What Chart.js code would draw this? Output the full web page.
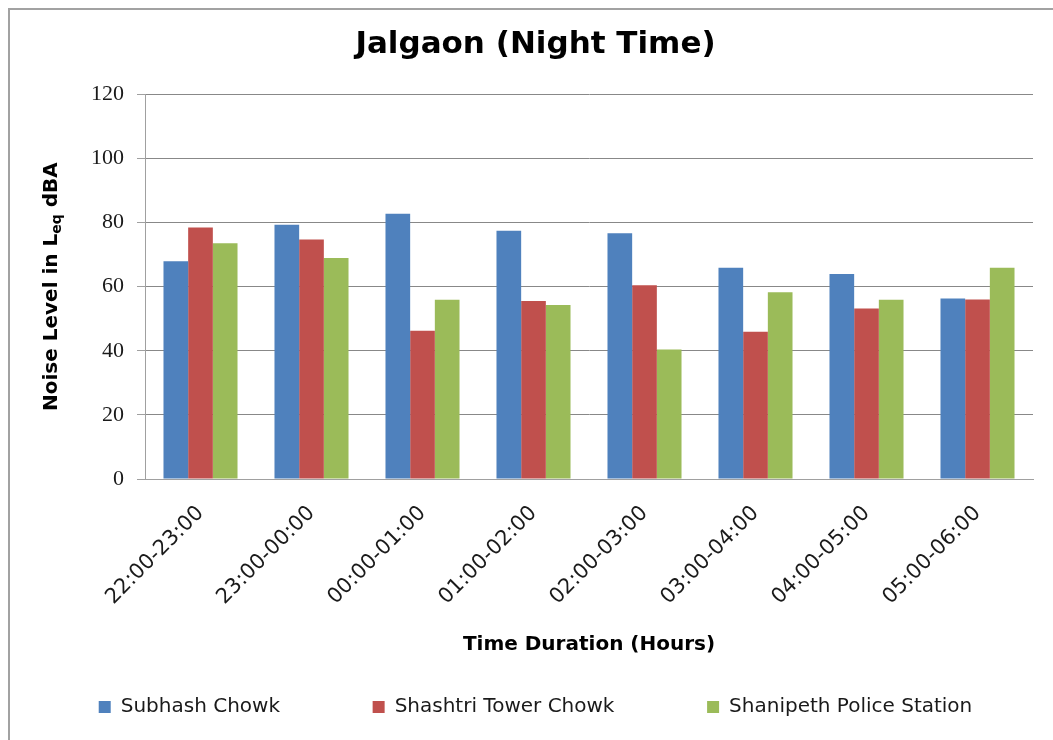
<!DOCTYPE html>
<html>
<head>
<meta charset="utf-8">
<script src="https://cdn.jsdelivr.net/npm/chart.js@4/dist/chart.umd.min.js"></script>
<style>
  html, body { margin: 0; padding: 0; background: #fff; }
  #wrap { position: relative; width: 1053px; height: 740px; overflow: hidden; }
  #frame { position: absolute; left: 8px; top: 8px; width: 1200px; height: 900px;
           border-left: 2px solid #a2a2a2; border-top: 2px solid #a2a2a2; pointer-events: none; }
</style>
</head>
<body>
<div id="wrap">
  <canvas id="noiseChart"></canvas>
  <div id="frame"></div>
</div>
<script>
const timeSlots = ['22:00-23:00', '23:00-00:00', '00:00-01:00', '01:00-02:00',
                   '02:00-03:00', '03:00-04:00', '04:00-05:00', '05:00-06:00'];
const subhashChowk = [67.9, 79.3, 82.7, 77.4, 76.6, 65.9, 63.9, 56.3];
const shashtriTowerChowk = [78.4, 74.7, 46.2, 55.5, 60.4, 45.9, 53.2, 56.0];
const shanipethPoliceStation = [73.5, 68.9, 55.9, 54.3, 40.4, 58.2, 55.9, 65.9];
const yTicks = [0, 20, 40, 60, 80, 100, 120];

const seriesNames = ['Subhash Chowk', 'Shashtri Tower Chowk', 'Shanipeth Police Station'];

// y axis title has a subscript, so it is drawn by hand
const yTitlePlugin = {
    id: 'yTitle',
    afterDraw(chart) {
        const ctx = chart.ctx;
        const area = chart.chartArea;
        const big = 'bold 20px "DejaVu Sans"';
        const small = 'bold 14px "DejaVu Sans"';
        const parts = [['Noise Level in L', big, 0], ['eq', small, 5], [' dBA', big, 0]];
        let total = 0;
        parts.forEach(p => { ctx.font = p[1]; total += ctx.measureText(p[0]).width; });
        ctx.save();
        ctx.translate(52, (area.top + area.bottom) / 2);
        ctx.rotate(-Math.PI / 2);
        ctx.fillStyle = '#000';
        ctx.textBaseline = 'middle';
        let x = -total / 2;
        parts.forEach(p => {
            ctx.font = p[1];
            ctx.fillText(p[0], x, p[2]);
            x += ctx.measureText(p[0]).width;
        });
        ctx.restore();
    }
};

const ctx = document.getElementById('noiseChart').getContext('2d');
new Chart(ctx, {
    type: 'bar',
    data: {
        labels: timeSlots,
        datasets: [
            { label: seriesNames[0], data: subhashChowk, backgroundColor: '#4F81BD' },
            { label: seriesNames[1], data: shashtriTowerChowk, backgroundColor: '#C0504D' },
            { label: seriesNames[2], data: shanipethPoliceStation, backgroundColor: '#9BBB59' },
        ],
    },
    options: {
        responsive: true,
        maintainAspectRatio: false,
        animation: false,
        layout: { padding: { left: 38, right: 20, top: 0, bottom: 13 } },
        datasets: { bar: { categoryPercentage: 0.667, barPercentage: 1 } },
        plugins: {
            title: {
                display: true,
                text: 'Jalgaon (Night Time)',
                color: '#000',
                font: { family: 'DejaVu Sans', size: 31, weight: 'bold' },
                padding: { top: 26, bottom: 31 },
            },
            legend: {
                position: 'bottom',
                labels: {
                    color: '#1a1a1a',
                    font: { family: 'DejaVu Sans', size: 20 },
                    boxWidth: 12,
                    boxHeight: 12,
                    padding: 10,
                    generateLabels(chart) {
                        const items = Chart.defaults.plugins.legend.labels.generateLabels(chart);
                        items.forEach((it, i) => {
                            it.text = seriesNames[i] + (i < seriesNames.length - 1 ? '             ' : '');
                            it.lineWidth = 0;
                        });
                        return items;
                    },
                },
            },
            tooltip: { enabled: false },
        },
        scales: {
            x: {
                grid: { display: false, drawTicks: true, tickLength: 8 },
                border: { display: true, color: '#a0a0a0', width: 1 },
                ticks: {
                    color: '#1a1a1a',
                    font: { family: 'DejaVu Sans', size: 21 },
                    minRotation: 45,
                    maxRotation: 45,
                    padding: 14,
                },
                title: {
                    display: true,
                    text: 'Time Duration (Hours)',
                    color: '#000',
                    font: { family: 'DejaVu Sans', size: 20, weight: 'bold' },
                    padding: { top: 4, bottom: 30 },
                },
                afterFit(scale) { scale.height = 208; },
            },
            y: {
                min: 0,
                max: 120,
                afterBuildTicks(scale) { scale.ticks = yTicks.map(v => ({ value: v })); },
                grid: { color: '#888888', lineWidth: 1, drawTicks: true, tickLength: 8, tickColor: '#a0a0a0' },
                border: { display: true, color: '#a0a0a0', width: 1 },
                ticks: {
                    color: '#1a1a1a',
                    font: { family: 'Liberation Serif', size: 22 },
                    padding: 13,
                },
                afterFit(scale) { scale.width = 107; },
            },
        },
    },
    plugins: [yTitlePlugin],
});
</script>
</body>
</html>
